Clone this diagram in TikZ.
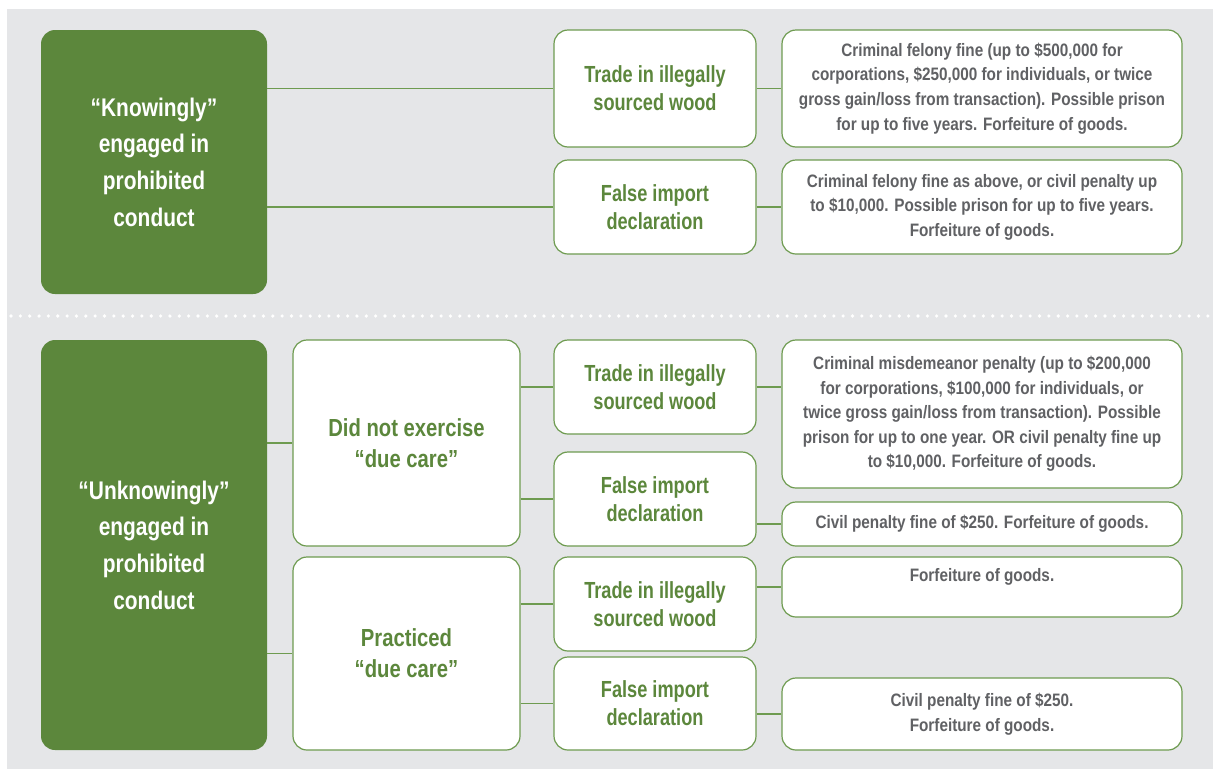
\documentclass[tikz,border=0pt]{standalone}
\usepackage{fontspec}
\setmainfont{Liberation Sans}[FakeStretch=0.78]
\newfontfamily\widefont{Liberation Sans}[FakeStretch=0.82]
\newfontfamily\resfont{Liberation Sans}[FakeStretch=0.85]
\definecolor{bg}{HTML}{E5E6E8}
\definecolor{grn}{HTML}{5C873C}
\definecolor{edge}{HTML}{6E9B50}
\definecolor{txt}{HTML}{606164}
\tikzset{
  gbox/.style={fill=grn, rounded corners=14pt, text=white, font=\widefont\bfseries\fontsize{25.5}{36.7}\selectfont, align=center, inner sep=0pt},
  wbox/.style={fill=white, draw=edge, line width=1.2pt, rounded corners=14pt, align=center, inner sep=0pt},
  midbox/.style={wbox, text=grn, font=\widefont\bfseries\fontsize{24.7}{31}\selectfont},
  actbox/.style={wbox, text=grn, font=\bfseries\fontsize{23.3}{27.8}\selectfont},
  resbox/.style={wbox, text=txt, font=\resfont\bfseries\fontsize{18}{24.6}\selectfont},
  conn/.style={draw=edge, line width=1.2pt},
}
\begin{document}
\begin{tikzpicture}[x=1pt,y=-1pt]
\useasboundingbox (0,0) rectangle (1213,769);
\fill[bg] (7,9) rectangle (1213,769);
\draw[white, line width=3.6pt, line cap=round, dash pattern=on 0pt off 9.35pt] (11,316) -- (1213,316);

% main category boxes
\node[gbox, minimum width=226pt, minimum height=264pt] (K) at (154,162) {“Knowingly”\\engaged in\\prohibited\\conduct};
\node[gbox, minimum width=226pt, minimum height=410pt] (U) at (154,545) {“Unknowingly”\\engaged in\\prohibited\\conduct};

% due care boxes
\node[midbox, minimum width=227pt, minimum height=206pt] (D) at (406.5,443) {Did not exercise\\“due care”};
\node[midbox, minimum width=227pt, minimum height=193pt] (P) at (406.5,653.5) {Practiced\\“due care”};

% actions
\node[actbox, minimum width=202pt, minimum height=117pt] (T1) at (655,88.5) {Trade in illegally\\sourced wood};
\node[actbox, minimum width=202pt, minimum height=94pt] (F1) at (655,207) {False import\\declaration};
\node[actbox, minimum width=202pt, minimum height=94pt] (T2) at (655,387) {Trade in illegally\\sourced wood};
\node[actbox, minimum width=202pt, minimum height=94pt] (F2) at (655,499) {False import\\declaration};
\node[actbox, minimum width=202pt, minimum height=94pt] (T3) at (655,604) {Trade in illegally\\sourced wood};
\node[actbox, minimum width=202pt, minimum height=93pt] (F3) at (655,703.5) {False import\\declaration};

% results
\node[resbox, minimum width=400pt, minimum height=117pt] (R1) at (982,88.5) {Criminal felony fine (up to \$500,000 for\\corporations, \$250,000 for individuals, or twice\\gross gain/loss from transaction). Possible prison\\for up to five years. Forfeiture of goods.};
\node[resbox, minimum width=400pt, minimum height=94pt] (R2) at (982,207) {Criminal felony fine as above, or civil penalty up\\to \$10,000. Possible prison for up to five years.\\Forfeiture of goods.};
\node[resbox, minimum width=400pt, minimum height=148pt] (R3) at (982,414) {Criminal misdemeanor penalty (up to \$200,000\\for corporations, \$100,000 for individuals, or\\twice gross gain/loss from transaction). Possible\\prison for up to one year. OR civil penalty fine up\\to \$10,000. Forfeiture of goods.};
\node[resbox, minimum width=400pt, minimum height=44pt] (R4) at (982,524) {Civil penalty fine of \$250. Forfeiture of goods.};
\node[resbox, minimum width=400pt, minimum height=60pt] (R5) at (982,587) {Forfeiture of goods.\\\mbox{}};
\node[resbox, minimum width=400pt, minimum height=72pt] (R6) at (982,714) {Civil penalty fine of \$250.\\Forfeiture of goods.};

% connectors
\draw[conn] (K.east |- T1.west) -- (T1.west);
\draw[conn] (K.east |- F1.west) -- (F1.west);
\draw[conn] (T1.east) -- (R1.west);
\draw[conn] (F1.east) -- (R2.west);
\draw[conn] (U.east |- D.west) -- (D.west);
\draw[conn] (U.east |- P.west) -- (P.west);
\draw[conn] (D.east |- T2.west) -- (T2.west);
\draw[conn] (D.east |- F2.west) -- (F2.west);
\draw[conn] (P.east |- T3.west) -- (T3.west);
\draw[conn] (P.east |- F3.west) -- (F3.west);
\draw[conn] (T2.east) -- (R3.west |- T2.east);
\draw[conn] (F2.east |- R4.west) -- (R4.west);
\draw[conn] (T3.east |- R5.west) -- (R5.west);
\draw[conn] (F3.east |- R6.west) -- (R6.west);
\end{tikzpicture}
\end{document}
